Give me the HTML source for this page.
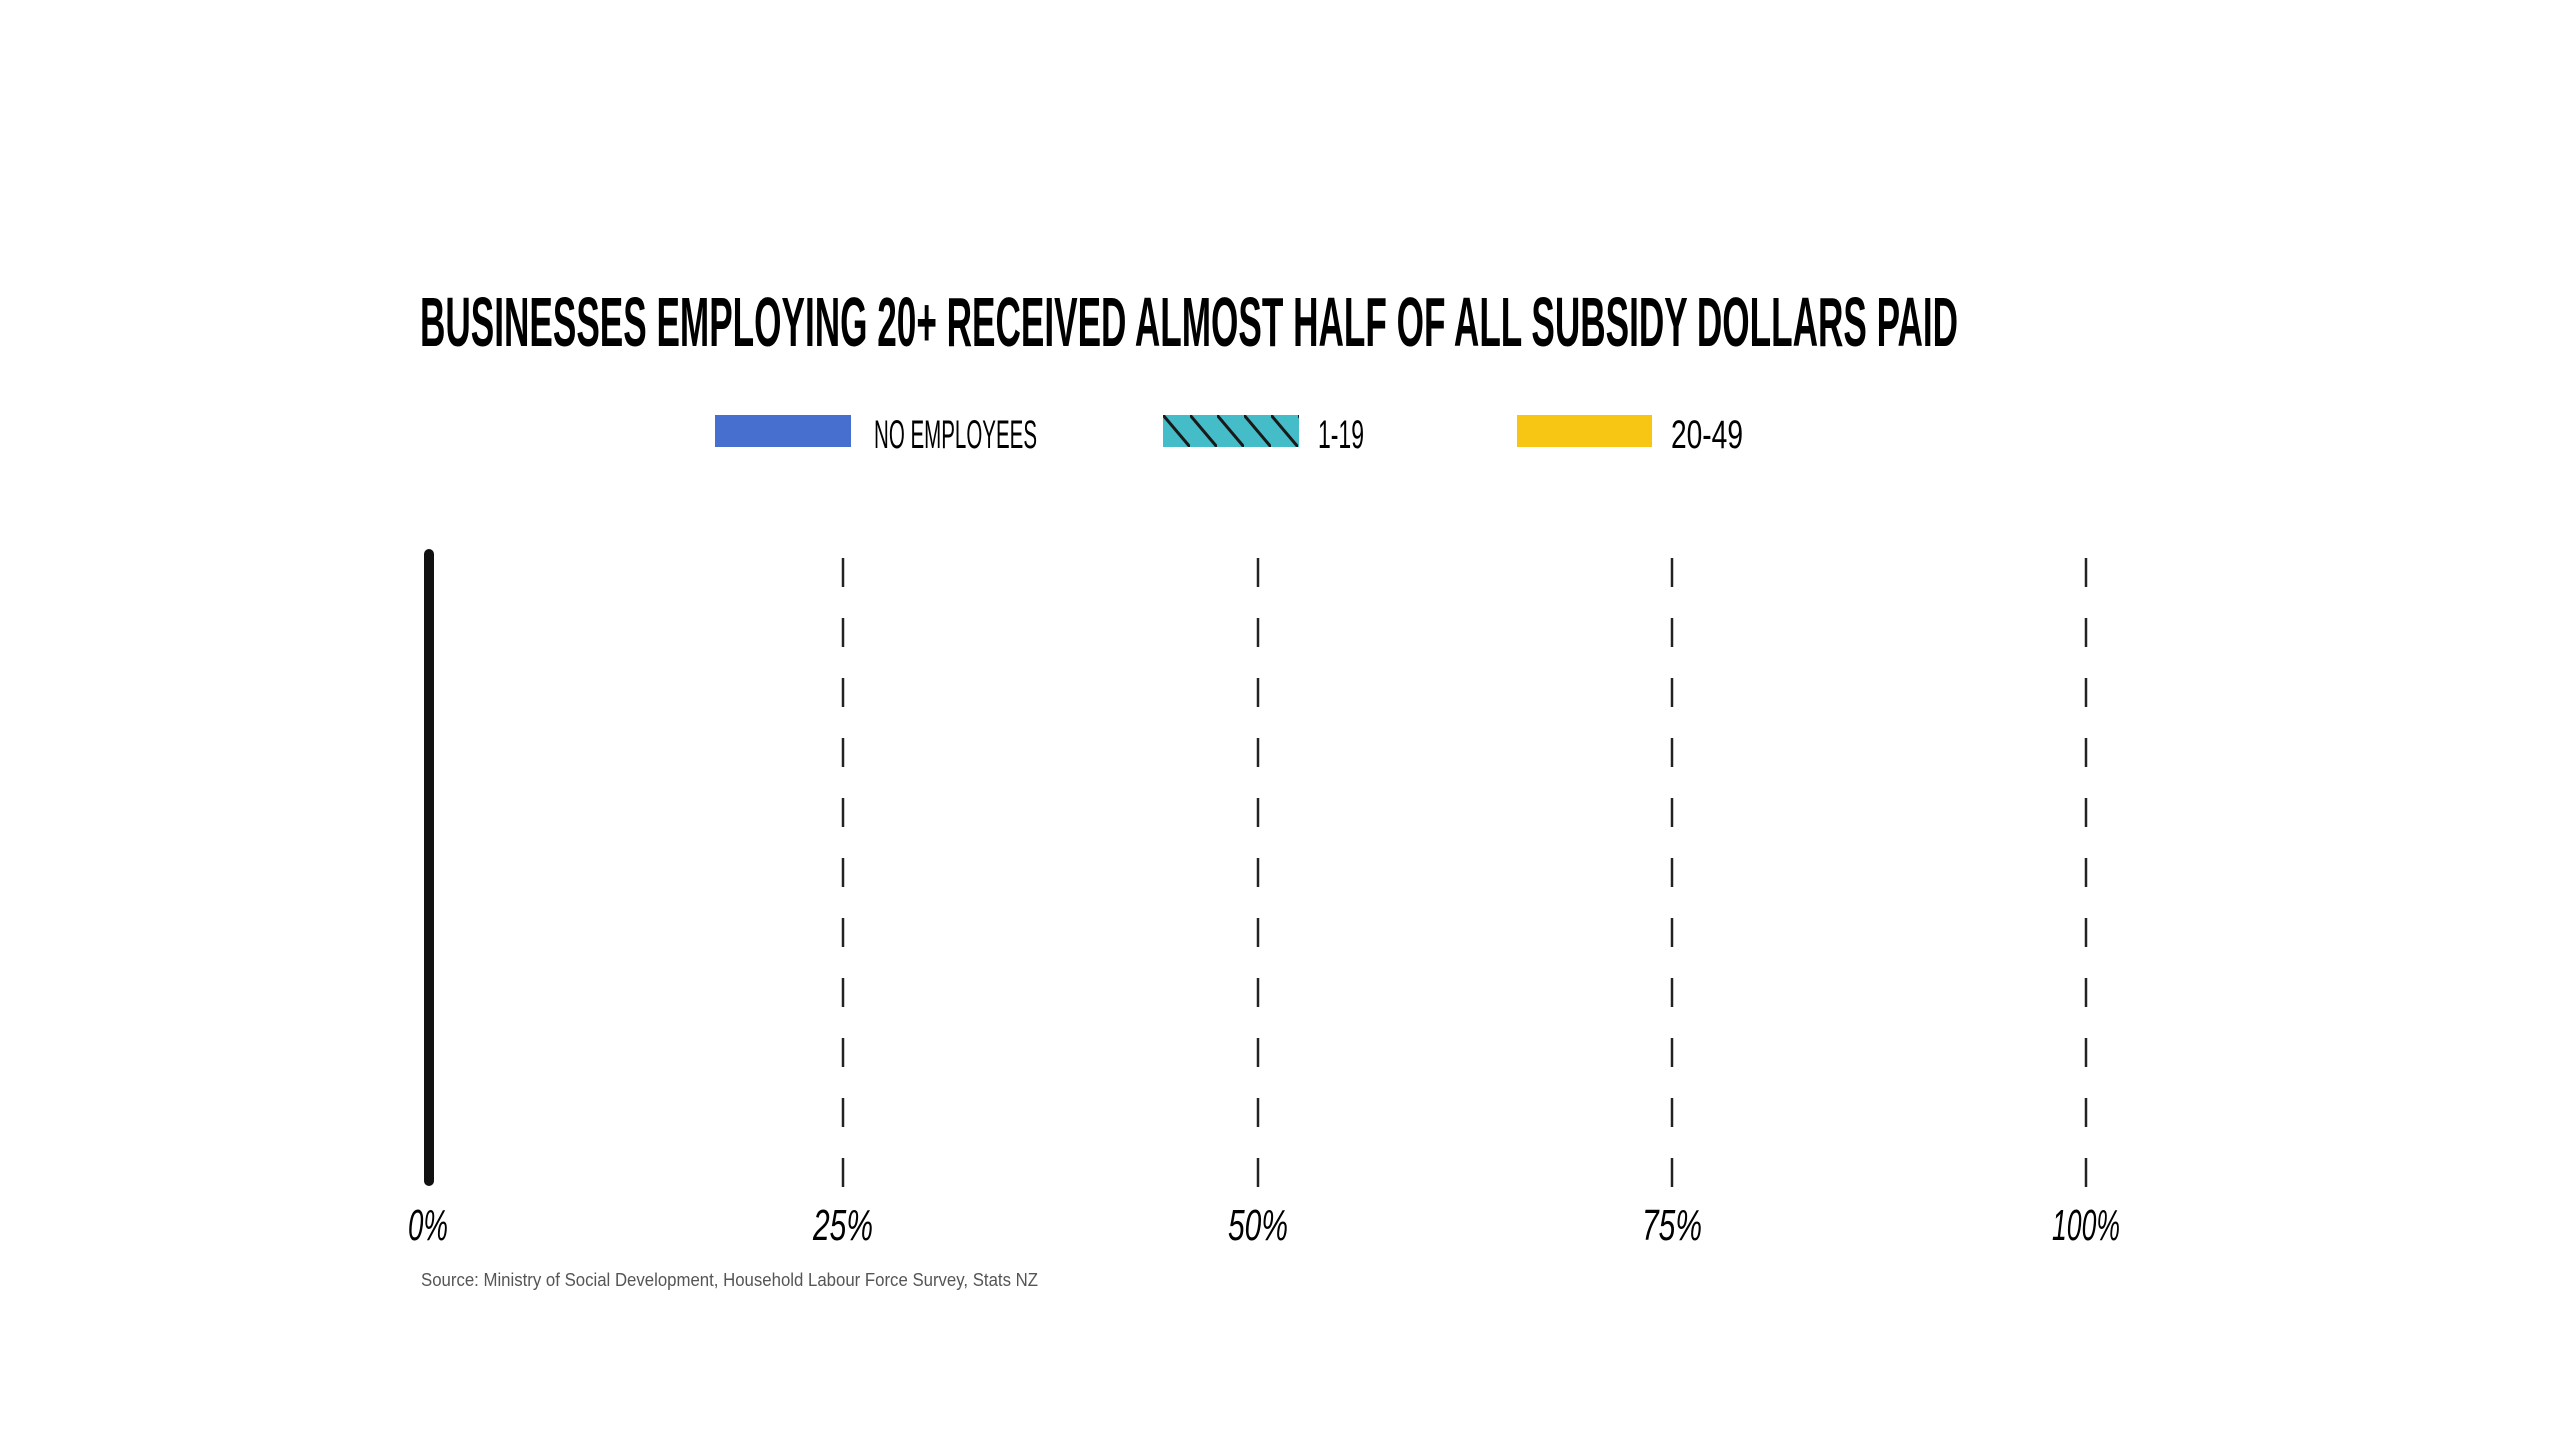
<!DOCTYPE html>
<html><head><meta charset="utf-8"><style>
html,body{margin:0;padding:0;background:#fff;}
svg{display:block}
</style></head><body>
<svg width="2560" height="1440" viewBox="0 0 2560 1440" xmlns="http://www.w3.org/2000/svg">
<defs>
<pattern id="hatch" patternUnits="userSpaceOnUse" width="27" height="32" patternTransform="translate(1163,415)">
<rect width="27" height="32" fill="#45bdc9"/>
<line x1="0" y1="0" x2="27" y2="32" stroke="#1a1a1a" stroke-width="3"/>
</pattern>
</defs>
<g font-family="Liberation Sans Narrow, Liberation Sans, sans-serif" font-weight="bold" fill="#000">
<text x="420" y="346" font-size="70" textLength="1538" lengthAdjust="spacingAndGlyphs">BUSINESSES EMPLOYING 20+ RECEIVED ALMOST HALF OF ALL SUBSIDY DOLLARS PAID</text>
</g>
<rect x="715" y="415" width="136" height="32" fill="#466fcf"/>
<rect x="1163" y="415" width="136" height="32" fill="url(#hatch)"/>
<rect x="1517" y="415" width="135" height="32" fill="#f7c614"/>
<g font-family="Liberation Sans Narrow, Liberation Sans, sans-serif" fill="#000" font-size="40">
<text x="874" y="448" textLength="163" lengthAdjust="spacingAndGlyphs">NO EMPLOYEES</text>
<text x="1318" y="448" textLength="46" lengthAdjust="spacingAndGlyphs">1-19</text>
<text x="1671" y="448" textLength="72" lengthAdjust="spacingAndGlyphs">20-49</text>
</g>
<rect x="424" y="549" width="10" height="637" rx="5" fill="#111"/>
<g stroke="#222" stroke-width="2.5" stroke-dasharray="29 31">
<line x1="843" y1="558" x2="843" y2="1188"/>
<line x1="1258" y1="558" x2="1258" y2="1188"/>
<line x1="1672" y1="558" x2="1672" y2="1188"/>
<line x1="2086" y1="558" x2="2086" y2="1188"/>
</g>
<g font-family="Liberation Sans Narrow, Liberation Sans, sans-serif" font-style="italic" fill="#000" font-size="44" text-anchor="middle">
<text x="428" y="1240" textLength="40" lengthAdjust="spacingAndGlyphs">0%</text>
<text x="843" y="1240" textLength="60" lengthAdjust="spacingAndGlyphs">25%</text>
<text x="1258" y="1240" textLength="60" lengthAdjust="spacingAndGlyphs">50%</text>
<text x="1672" y="1240" textLength="60" lengthAdjust="spacingAndGlyphs">75%</text>
<text x="2086" y="1240" textLength="68" lengthAdjust="spacingAndGlyphs">100%</text>
</g>
<text x="421" y="1286" font-family="Liberation Sans, sans-serif" font-size="18" fill="#555" textLength="617" lengthAdjust="spacingAndGlyphs">Source: Ministry of Social Development, Household Labour Force Survey, Stats NZ</text>
</svg>
</body></html>
